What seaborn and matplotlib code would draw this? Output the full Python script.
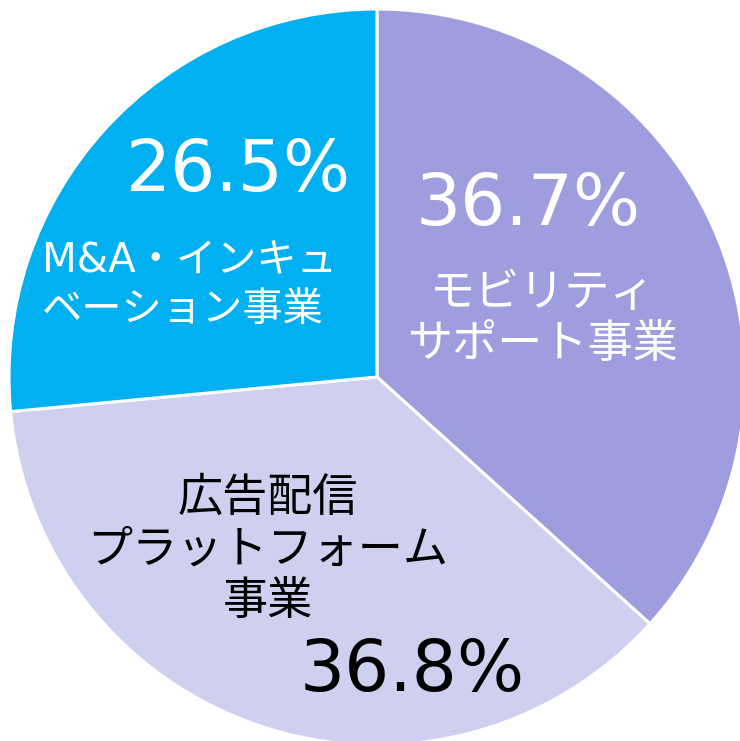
import matplotlib
matplotlib.use('Agg')
import matplotlib.pyplot as plt
import seaborn as sns

# Data
segments = ['モビリティ\nサポート事業', '広告配信\nプラットフォーム\n事業', 'M&A・インキュ\nベーション事業']
shares = [36.7, 36.8, 26.5]
pct_labels = ['36.7%', '36.8%', '26.5%']
colors = ['#9E9EDF', '#CFCFEF', '#00B0F0']
text_colors = ['white', 'black', 'white']

sns.set_style('white')
plt.rcParams['font.family'] = ['DejaVu Sans', 'Noto Sans CJK JP']

fig = plt.figure(figsize=(7.40, 7.41), dpi=100)
ax = fig.add_axes([0, 0, 1, 1])

ax.pie(shares, colors=colors, startangle=90, counterclock=False, radius=1,
       wedgeprops=dict(edgecolor='white', linewidth=2.2))

# pixel -> data helper (center 377,377, radius 368 px)
def px(x, y):
    return (x - 377) / 368, (377 - y) / 368

# label positions in pixels
pct_pos = [(528, 206), (412, 671), (238, 172)]
name_pos = [(543, 319), (268, 550), (184, 286)]
name_size = [32.5, 32.5, 29]
name_spacing = [1.22, 1.26, 1.28]

for i in range(3):
    x, y = px(*pct_pos[i])
    ax.text(x, y, pct_labels[i], ha='center', va='center', fontsize=51,
            color=text_colors[i], family='DejaVu Sans')
    x, y = px(*name_pos[i])
    if i == 2:
        ax.text((42 - 377) / 368, y, segments[i], ha='left', va='center',
                fontsize=name_size[i], color=text_colors[i], multialignment='left',
                linespacing=name_spacing[i], family=['DejaVu Sans', 'Noto Sans CJK JP'])
    else:
        ax.text(x, y, segments[i], ha='center', va='center',
                fontsize=name_size[i], color=text_colors[i], multialignment='center',
                linespacing=name_spacing[i], family=['DejaVu Sans', 'Noto Sans CJK JP'])

ax.set_xlim(-377 / 368, (740 - 377) / 368)
ax.set_ylim((377 - 741) / 368, 377 / 368)
ax.set_aspect('equal')
ax.axis('off')

fig.savefig('out.png', dpi=100)
